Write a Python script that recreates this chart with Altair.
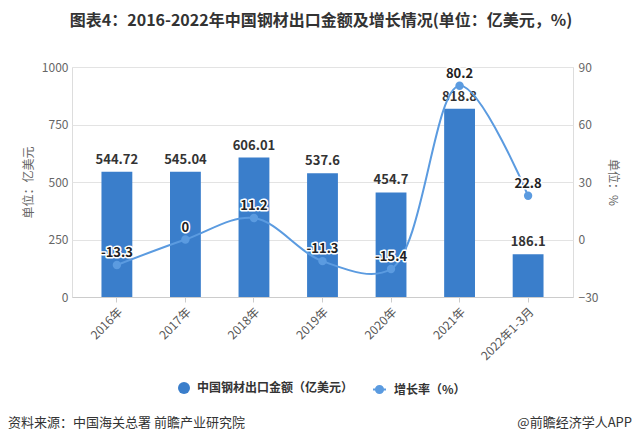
import altair as alt
import pandas as pd

FONT = "Noto Sans CJK SC"

categories = ["2016年", "2017年", "2018年", "2019年", "2020年", "2021年", "2022年1-3月"]
export_amount = [544.72, 545.04, 606.01, 537.6, 454.7, 818.8, 186.1]
growth_rate = [-13.3, 0, 11.2, -11.3, -15.4, 80.2, 22.8]
amount_labels = ["544.72", "545.04", "606.01", "537.6", "454.7", "818.8", "186.1"]
rate_labels = ["-13.3", "0", "11.2", "-11.3", "-15.4", "80.2", "22.8"]
left_ticks = [0, 250, 500, 750, 1000]
right_ticks = [-30, 0, 30, 60, 90]
bar_series = "中国钢材出口金额（亿美元）"
line_series = "增长率（%）"
title_text = "图表4：2016-2022年中国钢材出口金额及增长情况(单位：亿美元，%)"
source_text = "资料来源：中国海关总署 前瞻产业研究院"
brand_text = "@前瞻经济学人APP"

BAR_COLOR = "#3A7ECB"
LINE_COLOR = "#5B9BE0"

df = pd.DataFrame({
    "cat": categories,
    "amount": export_amount,
    "rate": growth_rate,
    "alabel": amount_labels,
    "rlabel": rate_labels,
    "s1": [bar_series] * len(categories),
    "s2": [line_series] * len(categories),
})

x_enc = alt.X(
    "cat:N",
    sort=categories,
    title=None,
    scale=alt.Scale(paddingInner=0.55, paddingOuter=0.43),
    axis=alt.Axis(
        labelAngle=-45, labelFont=FONT, labelFontSize=12, labelColor="#555",
        domainColor="#cccccc", tickColor="#cccccc", tickSize=5, grid=False,
        labelPadding=4,
    ),
)

y_left = alt.Y(
    "amount:Q",
    scale=alt.Scale(domain=[0, 1000], nice=False),
    axis=alt.Axis(
        values=left_ticks, format="d", title="单位：亿美元", titleFont=FONT,
        titleFontSize=12, titleFontWeight="normal", titleColor="#666",
        titleAngle=270, titleX=-44, titleY=115, titleAlign="center",
        titleBaseline="middle", labelFont=FONT, labelFontSize=12,
        labelColor="#666", labelPadding=4, ticks=False, domain=False,
        grid=True, gridColor="#e3e3e3",
    ),
)

legend_bar = alt.Legend(
    title=None, orient="none", legendX=106, legendY=315, symbolType="circle",
    symbolSize=144, symbolStrokeWidth=0, labelFont=FONT, labelFontSize=12,
    labelFontWeight="bold", labelColor="#333", labelOffset=7, padding=0,
)

line_symbol = "M-1,0L1,0M0.55,0A0.55,0.55,0,1,1,-0.55,0A0.55,0.55,0,1,1,0.55,0Z"
legend_line = alt.Legend(
    title=None, orient="none", legendX=300, legendY=315, symbolType=line_symbol,
    symbolSize=169, symbolStrokeWidth=2, symbolFillColor=LINE_COLOR,
    symbolStrokeColor=LINE_COLOR, labelFont=FONT, labelFontSize=12,
    labelFontWeight="bold", labelColor="#333", labelOffset=7, padding=0,
)

base = alt.Chart(df)

bars = base.mark_bar().encode(
    x=x_enc,
    y=y_left,
    fill=alt.Fill("s1:N", scale=alt.Scale(range=[BAR_COLOR]), legend=legend_bar),
)
bar_text = base.mark_text(
    baseline="bottom", dy=-5, font=FONT, fontSize=13, fontWeight="bold", color="#333"
).encode(x=x_enc, y=alt.Y("amount:Q"), text="alabel:N")

left = alt.layer(bars, bar_text)

y_right = alt.Y(
    "rate:Q",
    scale=alt.Scale(domain=[-30, 90], nice=False),
    axis=alt.Axis(
        orient="right", values=right_ticks, title="单位：%", titleFont=FONT,
        titleFontSize=12, titleFontWeight="normal", titleColor="#666",
        titleAngle=90, titleX=39, titleY=115, titleAlign="center",
        titleBaseline="middle", labelFont=FONT, labelFontSize=12,
        labelColor="#666", labelPadding=5, ticks=False, domain=False, grid=False,
    ),
)

line = base.mark_line(interpolate="catmull-rom", strokeWidth=2).encode(
    x=x_enc,
    y=y_right,
    stroke=alt.Stroke("s2:N", scale=alt.Scale(range=[LINE_COLOR]), legend=legend_line),
)
points = base.mark_point(filled=True, size=70, color=LINE_COLOR, opacity=1).encode(
    x=x_enc, y=alt.Y("rate:Q")
)
halo = base.mark_text(
    baseline="bottom", dy=-5, font=FONT, fontSize=13, fontWeight="bold",
    color="white", stroke="white", strokeWidth=3, strokeJoin="round",
).encode(x=x_enc, y=alt.Y("rate:Q"), text="rlabel:N")
rate_text = base.mark_text(
    baseline="bottom", dy=-5, font=FONT, fontSize=13, fontWeight="bold", color="#222"
).encode(x=x_enc, y=alt.Y("rate:Q"), text="rlabel:N")

right = alt.layer(line, points, halo, rate_text)

title_mark = alt.Chart(pd.DataFrame({"t": [title_text]})).mark_text(
    align="center", baseline="middle", font=FONT, fontSize=16,
    fontWeight="bold", color="#333"
).encode(text="t:N", x=alt.value(249), y=alt.value(-46))
foot_left = alt.Chart(pd.DataFrame({"t": [source_text]})).mark_text(
    align="left", baseline="middle", font=FONT, fontSize=13, color="#333"
).encode(text="t:N", x=alt.value(-64), y=alt.value(356))
foot_right = alt.Chart(pd.DataFrame({"t": [brand_text]})).mark_text(
    align="right", baseline="middle", font=FONT, fontSize=13, color="#333"
).encode(text="t:N", x=alt.value(560), y=alt.value(356))

chart = alt.layer(left, right, title_mark, foot_left, foot_right).resolve_scale(
    y="independent"
).properties(
    width=501,
    height=230,
    padding={"left": 64, "top": 59, "right": 59, "bottom": 139},
    autosize=alt.AutoSizeParams(type="none"),
).configure_view(stroke=None).configure(background="white")

chart.save("out.html", embed_options={"renderer": "svg", "actions": False})
